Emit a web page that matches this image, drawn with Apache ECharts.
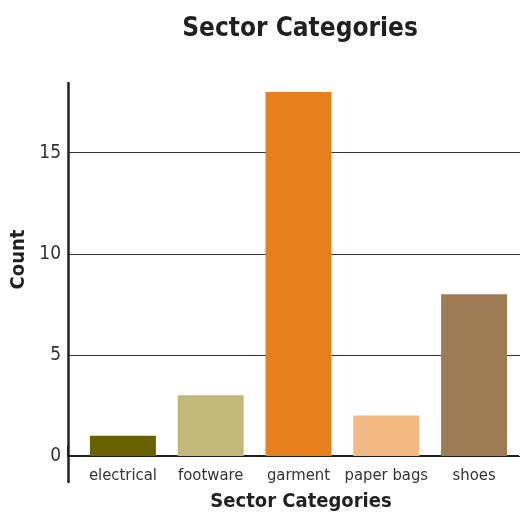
<!DOCTYPE html>
<html>
<head>
<meta charset="utf-8">
<script src="https://cdn.jsdelivr.net/npm/echarts@6/dist/echarts.min.js"></script>
<style>
html,body{margin:0;padding:0;background:#fff;}
#c{width:520px;height:514px;}
</style>
</head>
<body>
<div id="c"></div>
<script>
const categories = ['electrical', 'footware', 'garment', 'paper bags', 'shoes'];
const counts = [1, 3, 18, 2, 8];
const barColors = ['#676100', '#c2b87a', '#e5801c', '#f3b983', '#9d7b55'];
const yTicks = [0, 5, 10, 15];
const chartTitle = 'Sector Categories';
const xTitle = 'Sector Categories';
const yTitle = 'Count';

const FONT = '"Liberation Sans Narrow", "DejaVu Sans Condensed", sans-serif';
const Y_MAX = 18.45;

const chart = echarts.init(document.getElementById('c'), null, {renderer: 'canvas'});
const g = (o) => Object.assign({outerBoundsMode: 'none', containLabel: false}, o);
chart.setOption({
  animation: false,
  backgroundColor: '#fff',
  textStyle: {fontFamily: FONT},
  title: [
    {text: chartTitle, left: 295, top: 11, textAlign: 'center',
     textStyle: {fontFamily: FONT, fontSize: 26, fontWeight: 'bold', color: '#231f20'}},
    {text: xTitle, left: 296, top: 487, textAlign: 'center',
     textStyle: {fontFamily: FONT, fontSize: 20, fontWeight: 'bold', color: '#231f20'}}
  ],
  grid: [
    g({left: 79, right: 2, top: 83, bottom: 58}),
    g({left: 68, right: 0, top: 83, bottom: 58}),
    g({left: 68, right: 2, top: 447, bottom: 58}),
    g({left: 68, right: 0, top: 83, bottom: 32})
  ],
  xAxis: [
    {gridIndex: 0, type: 'category', data: categories,
     axisLine: {show: false}, axisTick: {show: false},
     axisLabel: {interval: 0, fontFamily: FONT, fontSize: 16.5, color: '#333', margin: 11}},
    {gridIndex: 1, type: 'value', show: false},
    {gridIndex: 2, type: 'value', min: 0, max: 1,
     axisLine: {show: true, lineStyle: {color: '#231f20', width: 2}},
     axisTick: {show: false}, axisLabel: {show: false}, splitLine: {show: false}},
    {gridIndex: 3, type: 'value', show: false}
  ],
  yAxis: [
    {gridIndex: 0, type: 'value', min: 0, max: Y_MAX, show: false},
    {gridIndex: 1, type: 'value', min: 0, max: Y_MAX, interval: 5,
     name: yTitle, nameLocation: 'middle', nameRotate: 90, nameGap: 34,
     nameTextStyle: {fontFamily: FONT, fontSize: 20, fontWeight: 'bold', color: '#231f20',
       padding: [0, 0, 0, 20]},
     axisLine: {show: false}, axisTick: {show: false},
     axisLabel: {fontFamily: FONT, fontSize: 19, color: '#333', margin: 7,
       showMaxLabel: false,
       formatter: v => (yTicks.indexOf(v) >= 0 ? String(v) : '')},
     splitLine: {show: true, showMaxLine: false, lineStyle: {color: '#333', width: 1}}},
    {gridIndex: 2, type: 'value', min: 0, max: 1, position: 'right',
     axisLine: {show: true, lineStyle: {color: '#231f20', width: 2}},
     axisTick: {show: false}, axisLabel: {show: false}, splitLine: {show: false}},
    {gridIndex: 3, type: 'value', min: 0, max: 1,
     axisLine: {show: true, lineStyle: {color: '#231f20', width: 2.5}},
     axisTick: {show: false}, axisLabel: {show: false}, splitLine: {show: false}}
  ],
  series: [{
    type: 'bar', xAxisIndex: 0, yAxisIndex: 0,
    data: counts.map((v, i) => ({value: v, itemStyle: {color: barColors[i]}})),
    barWidth: 66
  }]
});
</script>
</body>
</html>
